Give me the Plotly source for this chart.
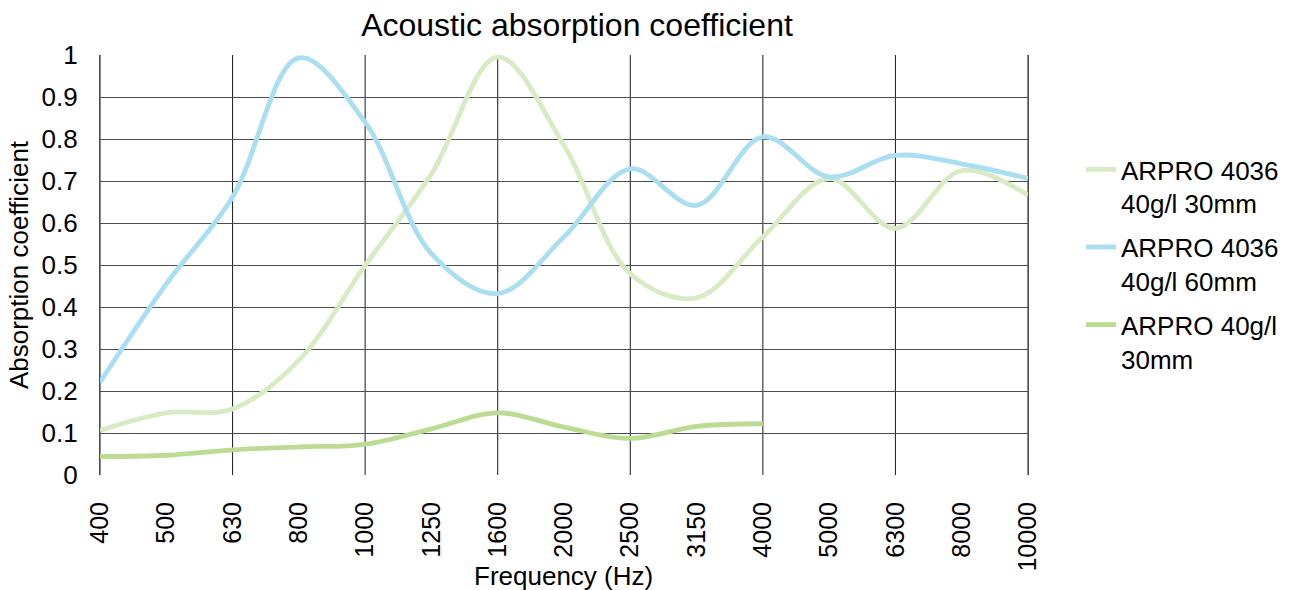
import plotly.graph_objects as go

freqs = ["400", "500", "630", "800", "1000", "1250", "1600", "2000", "2500",
         "3150", "4000", "5000", "6300", "8000", "10000"]
arpro4036_30mm = [0.106, 0.148, 0.157, 0.273, 0.499, 0.717, 0.995, 0.785, 0.479,
                  0.422, 0.567, 0.706, 0.587, 0.725, 0.666]
arpro4036_60mm = [0.221, 0.455, 0.662, 0.993, 0.840, 0.527, 0.432, 0.567, 0.729,
                  0.642, 0.805, 0.710, 0.761, 0.741, 0.706]
arpro_40gl_30mm = [0.044, 0.047, 0.060, 0.067, 0.073, 0.110, 0.148, 0.114, 0.087,
                   0.116, 0.122]
y_ticks = [0, 0.1, 0.2, 0.3, 0.4, 0.5, 0.6, 0.7, 0.8, 0.9, 1]
y_ticktext = ["0", "0.1", "0.2", "0.3", "0.4", "0.5", "0.6", "0.7", "0.8", "0.9", "1"]

idx = list(range(len(freqs)))
FONT = "Liberation Sans, Arial, sans-serif"

fig = go.Figure()
series = [
    ("ARPRO 4036<br>40g/l 30mm", arpro4036_30mm, "#d8ebc4"),
    ("ARPRO 4036<br>40g/l 60mm", arpro4036_60mm, "#a9dff1"),
    ("ARPRO 40g/l<br>30mm", arpro_40gl_30mm, "#bcdc94"),
]
for k, (name, vals, col) in enumerate(series):
    fig.add_trace(go.Scatter(
        x=idx[:len(vals)], y=vals, mode="lines", name=name, legendgroup=f"g{k}",
        line=dict(color=col, width=4.8, shape="spline", smoothing=1.0),
    ))

# vertical gridlines at every other category
for i in idx[::2]:
    fig.add_shape(type="line", xref="x", yref="paper", x0=i, x1=i, y0=0, y1=1,
                  line=dict(color="#1a1a1a", width=1), layer="below")

W, H = 1292, 590
L, T, R, B = 100, 55, 1028, 475  # plot area in pixels
PW, PH = R - L, B - T

fig.update_layout(
    width=W, height=H,
    template="none",
    paper_bgcolor="white", plot_bgcolor="white",
    margin=dict(l=L, r=W - R, t=T, b=H - B, autoexpand=False),
    font=dict(family=FONT, size=26, color="#000000"),
    title=dict(text="Acoustic absorption coefficient", x=(577 - L) / PW,
               xref="paper", xanchor="center", y=1 - 25 / H, yref="container",
               yanchor="middle", font=dict(size=32, family=FONT, color="#000")),
    showlegend=True,
    legend=dict(x=(1081 - L) / PW, xanchor="left", y=(B - 146) / PH, yanchor="top",
                valign="top", font=dict(size=26, family=FONT, color="#000"),
                bgcolor="rgba(0,0,0,0)", borderwidth=0, tracegroupgap=7),
    annotations=[dict(text="Frequency (Hz)", xref="paper", yref="paper",
                      x=(563 - L) / PW, y=(B - 576) / PH, xanchor="center",
                      yanchor="middle", showarrow=False,
                      font=dict(size=26, family=FONT, color="#000"))],
)
fig.update_xaxes(
    range=[0, 14], tickmode="array", tickvals=idx, ticktext=freqs,
    tickangle=-90, showgrid=False, zeroline=False, showline=False,
    ticks="outside", ticklen=16, tickcolor="rgba(0,0,0,0)",
    tickfont=dict(size=25, family=FONT, color="#000"),
    automargin=False,
)
fig.update_yaxes(
    range=[0, 1], tickmode="array", tickvals=y_ticks, ticktext=y_ticktext,
    showgrid=True, gridcolor="#4d4d4d", gridwidth=1.3, zeroline=False,
    showline=True, mirror=True, linecolor="#4d4d4d", linewidth=1.3,
    ticks="outside", ticklen=16, tickcolor="rgba(0,0,0,0)",
    tickfont=dict(size=26, family=FONT, color="#000"),
    title=dict(text="Absorption coefficient", standoff=5, font=dict(size=26, family=FONT)),
    automargin=False,
)

fig.write_html("out.html", config={"displayModeBar": False},
               post_script="document.body.style.margin='0';document.body.style.overflow='hidden';")
